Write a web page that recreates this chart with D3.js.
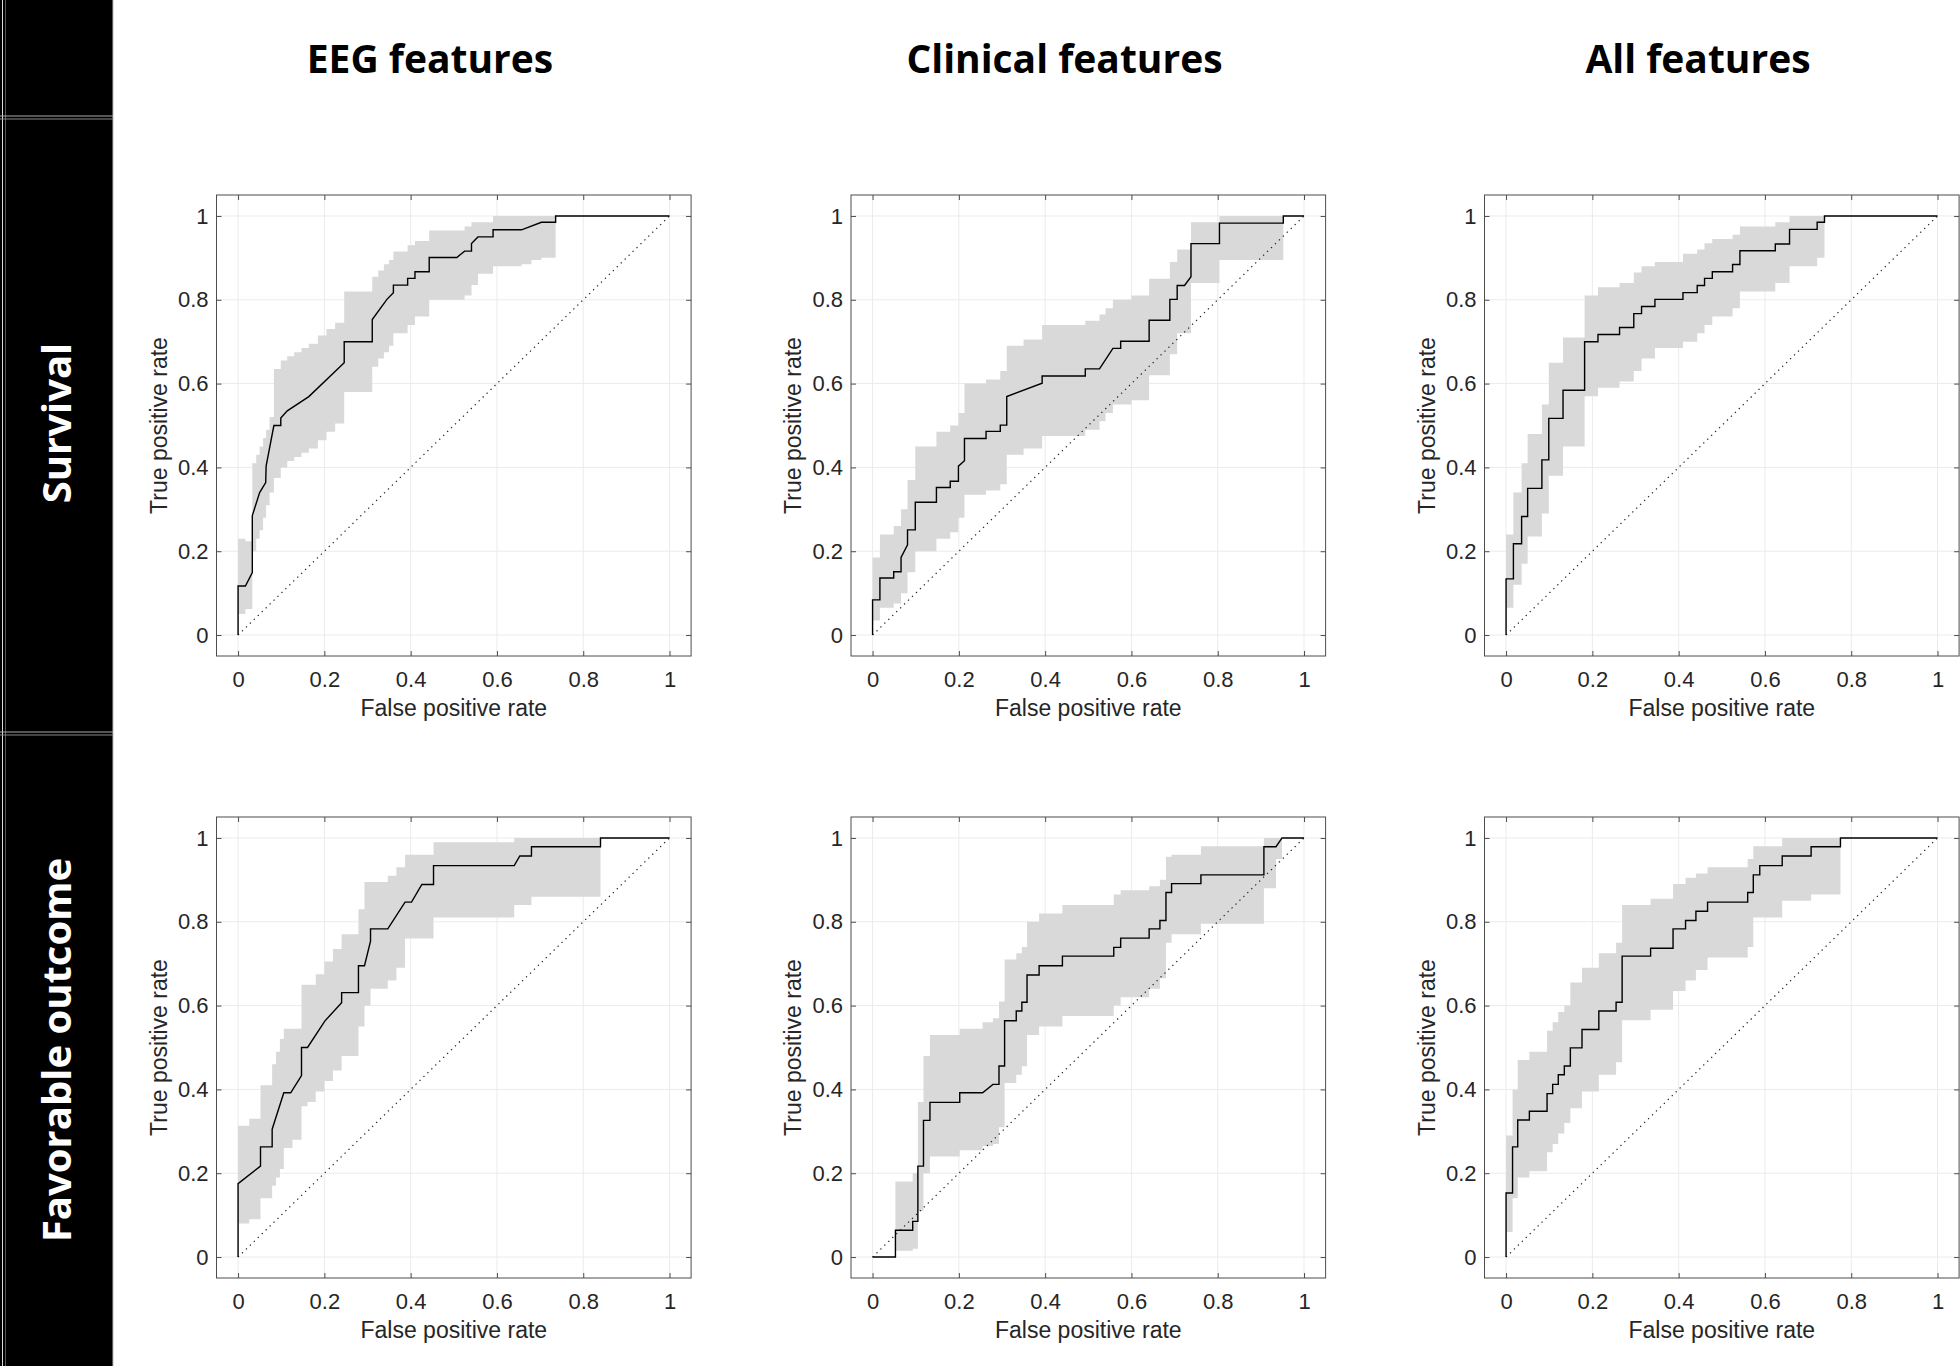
<!DOCTYPE html>
<html lang="en">
<head>
    <meta charset="UTF-8">
    <title>ROC curves</title>
    <script src="https://d3js.org/d3.v7.min.js"></script>
    <style>
        body { margin: 0; background: #fff; }
        .tick text { font-family: "Liberation Sans", Arial, sans-serif; font-size: 22px; fill: #262626; }
        .axis-label { font-family: "Liberation Sans", Arial, sans-serif; font-size: 23px; fill: #262626; }
        .col-title { font-family: "Open Sans", sans-serif; font-weight: bold; font-size: 39px; fill: #000; }
        .row-title { font-family: "Open Sans", sans-serif; font-weight: bold; font-size: 40px; fill: #fff; }
    </style>
</head>
<body>
<div id="chart"></div>
<script>
    const colTitles = ["EEG features", "Clinical features", "All features"];
    const rowTitles = ["Survival", "Favorable outcome"];
    const tickValues = [0, 0.2, 0.4, 0.6, 0.8, 1];
    const tickLabels = ["0", "0.2", "0.4", "0.6", "0.8", "1"];

    // ROC curves: [false positive rate, true positive rate]
    const eegSurvivalRoc = [[0,0],[0,0.117],[0.017,0.117],[0.033,0.149],[0.033,0.285],[0.05,0.34],[0.064,0.364],[0.065,0.403],[0.083,0.5],[0.099,0.5],[0.099,0.518],[0.114,0.535],[0.164,0.569],[0.246,0.65],[0.246,0.7],[0.311,0.7],[0.311,0.753],[0.345,0.801],[0.36,0.817],[0.36,0.835],[0.393,0.835],[0.393,0.851],[0.41,0.851],[0.41,0.867],[0.443,0.867],[0.443,0.901],[0.507,0.901],[0.525,0.916],[0.541,0.916],[0.541,0.934],[0.556,0.95],[0.591,0.95],[0.591,0.967],[0.657,0.967],[0.703,0.985],[0.736,0.985],[0.736,1],[1,1]];
    const clinicalSurvivalRoc = [[0,0],[0,0.084],[0.017,0.084],[0.017,0.136],[0.049,0.136],[0.049,0.151],[0.066,0.151],[0.066,0.185],[0.081,0.215],[0.081,0.251],[0.099,0.251],[0.099,0.317],[0.148,0.317],[0.148,0.352],[0.18,0.352],[0.18,0.367],[0.199,0.367],[0.199,0.403],[0.213,0.416],[0.213,0.469],[0.263,0.469],[0.263,0.486],[0.296,0.486],[0.296,0.501],[0.311,0.501],[0.311,0.569],[0.393,0.601],[0.393,0.618],[0.493,0.618],[0.493,0.635],[0.526,0.635],[0.557,0.684],[0.575,0.684],[0.575,0.701],[0.641,0.701],[0.641,0.751],[0.689,0.751],[0.689,0.801],[0.706,0.801],[0.706,0.834],[0.723,0.834],[0.738,0.855],[0.738,0.934],[0.804,0.934],[0.804,0.983],[0.952,0.983],[0.952,1],[1,1]];
    const allSurvivalRoc = [[0,0],[0,0.134],[0.017,0.134],[0.017,0.218],[0.036,0.218],[0.036,0.283],[0.05,0.283],[0.05,0.35],[0.083,0.35],[0.083,0.418],[0.099,0.418],[0.099,0.517],[0.132,0.517],[0.132,0.584],[0.182,0.584],[0.182,0.7],[0.213,0.7],[0.213,0.717],[0.263,0.717],[0.263,0.734],[0.296,0.734],[0.296,0.767],[0.314,0.767],[0.314,0.784],[0.345,0.784],[0.345,0.801],[0.41,0.801],[0.41,0.817],[0.443,0.817],[0.443,0.834],[0.46,0.834],[0.46,0.851],[0.478,0.851],[0.478,0.867],[0.525,0.867],[0.525,0.884],[0.542,0.884],[0.542,0.917],[0.624,0.917],[0.624,0.933],[0.657,0.933],[0.657,0.968],[0.721,0.968],[0.721,0.985],[0.738,0.985],[0.738,1],[1,1]];
    const eegFavorableRoc = [[0,0],[0,0.175],[0.052,0.217],[0.052,0.263],[0.079,0.263],[0.079,0.305],[0.106,0.392],[0.122,0.392],[0.147,0.433],[0.147,0.5],[0.161,0.5],[0.201,0.563],[0.24,0.607],[0.24,0.631],[0.279,0.631],[0.279,0.695],[0.293,0.695],[0.307,0.754],[0.307,0.783],[0.347,0.783],[0.387,0.847],[0.402,0.847],[0.426,0.889],[0.453,0.889],[0.453,0.934],[0.64,0.934],[0.653,0.957],[0.68,0.957],[0.68,0.979],[0.84,0.979],[0.84,1],[1,1]];
    const clinicalFavorableRoc = [[0,0],[0.053,0],[0.053,0.064],[0.093,0.064],[0.093,0.085],[0.105,0.085],[0.105,0.217],[0.118,0.217],[0.118,0.326],[0.133,0.326],[0.133,0.369],[0.202,0.369],[0.202,0.392],[0.255,0.392],[0.279,0.412],[0.293,0.412],[0.293,0.456],[0.306,0.456],[0.306,0.564],[0.333,0.564],[0.333,0.587],[0.346,0.587],[0.346,0.608],[0.358,0.608],[0.358,0.673],[0.386,0.673],[0.386,0.695],[0.44,0.695],[0.44,0.718],[0.559,0.718],[0.559,0.739],[0.575,0.739],[0.575,0.761],[0.641,0.761],[0.641,0.783],[0.666,0.783],[0.666,0.803],[0.68,0.803],[0.68,0.87],[0.693,0.87],[0.693,0.891],[0.761,0.891],[0.761,0.912],[0.907,0.912],[0.907,0.979],[0.935,0.979],[0.949,1],[1,1]];
    const allFavorableRoc = [[0,0],[0,0.153],[0.015,0.153],[0.015,0.263],[0.027,0.263],[0.027,0.327],[0.054,0.327],[0.054,0.348],[0.095,0.348],[0.095,0.39],[0.108,0.39],[0.108,0.412],[0.121,0.412],[0.121,0.435],[0.135,0.435],[0.135,0.456],[0.149,0.456],[0.149,0.499],[0.176,0.499],[0.176,0.543],[0.215,0.543],[0.215,0.587],[0.255,0.587],[0.255,0.608],[0.269,0.608],[0.269,0.718],[0.335,0.718],[0.335,0.737],[0.387,0.737],[0.387,0.783],[0.416,0.783],[0.416,0.803],[0.44,0.803],[0.44,0.825],[0.467,0.825],[0.467,0.847],[0.56,0.847],[0.56,0.87],[0.573,0.87],[0.573,0.912],[0.588,0.912],[0.588,0.934],[0.64,0.934],[0.64,0.957],[0.707,0.957],[0.707,0.979],[0.775,0.979],[0.775,1],[1,1]];

    // confidence bands: [fpr, lower tpr, upper tpr], held until the next fpr
    const eegSurvivalBand = [[0,0.05,0.23],[0.017,0.062,0.224],[0.033,0.2,0.41],[0.042,0.23,0.43],[0.05,0.25,0.45],[0.058,0.28,0.47],[0.065,0.31,0.49],[0.073,0.34,0.52],[0.083,0.375,0.635],[0.099,0.4,0.655],[0.114,0.415,0.665],[0.13,0.425,0.675],[0.147,0.435,0.685],[0.164,0.445,0.695],[0.185,0.465,0.715],[0.205,0.485,0.73],[0.225,0.505,0.745],[0.246,0.58,0.82],[0.311,0.64,0.855],[0.325,0.66,0.87],[0.338,0.675,0.885],[0.35,0.69,0.895],[0.36,0.72,0.915],[0.393,0.74,0.93],[0.41,0.76,0.94],[0.443,0.8,0.965],[0.507,0.8,0.965],[0.525,0.81,0.975],[0.541,0.835,0.985],[0.556,0.862,0.985],[0.591,0.88,1],[0.657,0.885,1],[0.68,0.895,1],[0.703,0.9,1],[0.736,1,1]];
    const clinicalSurvivalBand = [[0,0.035,0.185],[0.017,0.065,0.24],[0.049,0.075,0.26],[0.066,0.1,0.3],[0.081,0.15,0.37],[0.099,0.2,0.45],[0.148,0.23,0.485],[0.18,0.245,0.5],[0.199,0.28,0.53],[0.213,0.335,0.6],[0.263,0.345,0.61],[0.296,0.36,0.63],[0.311,0.43,0.69],[0.35,0.445,0.705],[0.393,0.475,0.74],[0.493,0.49,0.75],[0.526,0.51,0.765],[0.54,0.53,0.78],[0.557,0.55,0.8],[0.6,0.56,0.81],[0.641,0.62,0.85],[0.689,0.67,0.89],[0.706,0.72,0.92],[0.738,0.84,0.985],[0.804,0.895,1],[0.952,1,1]];
    const allSurvivalBand = [[0,0.065,0.24],[0.017,0.12,0.34],[0.036,0.17,0.41],[0.05,0.235,0.48],[0.083,0.29,0.55],[0.099,0.38,0.65],[0.132,0.45,0.71],[0.182,0.57,0.81],[0.213,0.59,0.83],[0.263,0.605,0.84],[0.296,0.63,0.865],[0.314,0.66,0.88],[0.345,0.685,0.89],[0.41,0.7,0.91],[0.443,0.72,0.92],[0.46,0.74,0.935],[0.478,0.76,0.945],[0.525,0.78,0.955],[0.542,0.82,0.975],[0.624,0.84,0.985],[0.657,0.88,1],[0.721,0.9,1],[0.738,1,1]];
    const eegFavorableBand = [[0,0.08,0.313],[0.026,0.09,0.33],[0.052,0.14,0.41],[0.079,0.17,0.46],[0.088,0.19,0.49],[0.097,0.21,0.52],[0.106,0.26,0.545],[0.126,0.28,0.545],[0.147,0.36,0.65],[0.161,0.37,0.65],[0.18,0.395,0.675],[0.2,0.42,0.705],[0.22,0.445,0.735],[0.24,0.48,0.77],[0.279,0.55,0.83],[0.293,0.6,0.895],[0.307,0.64,0.895],[0.347,0.66,0.91],[0.367,0.69,0.93],[0.387,0.76,0.96],[0.453,0.81,0.99],[0.64,0.84,1],[0.68,0.86,1],[0.84,1,1]];
    const clinicalFavorableBand = [[0.053,0.015,0.18],[0.093,0.02,0.2],[0.105,0.11,0.37],[0.118,0.2,0.48],[0.133,0.24,0.53],[0.202,0.255,0.545],[0.255,0.265,0.56],[0.279,0.27,0.57],[0.293,0.31,0.61],[0.306,0.415,0.71],[0.333,0.435,0.725],[0.346,0.455,0.74],[0.358,0.53,0.8],[0.386,0.55,0.82],[0.44,0.575,0.84],[0.559,0.6,0.865],[0.575,0.62,0.875],[0.641,0.64,0.885],[0.666,0.665,0.9],[0.68,0.75,0.955],[0.693,0.77,0.96],[0.761,0.795,0.98],[0.907,0.88,1],[0.935,0.95,1],[0.949,1,1]];
    const allFavorableBand = [[0,0.06,0.29],[0.015,0.14,0.4],[0.027,0.19,0.47],[0.054,0.205,0.49],[0.095,0.25,0.54],[0.108,0.27,0.56],[0.121,0.295,0.585],[0.135,0.32,0.6],[0.149,0.355,0.655],[0.176,0.395,0.69],[0.215,0.435,0.725],[0.255,0.465,0.75],[0.269,0.565,0.84],[0.335,0.59,0.855],[0.387,0.635,0.89],[0.416,0.66,0.905],[0.44,0.685,0.915],[0.467,0.715,0.93],[0.56,0.74,0.95],[0.573,0.81,0.98],[0.64,0.85,1],[0.707,0.865,1],[0.775,1,1]];

    const rocs = [[eegSurvivalRoc, clinicalSurvivalRoc, allSurvivalRoc],
                  [eegFavorableRoc, clinicalFavorableRoc, allFavorableRoc]];
    const bands = [[eegSurvivalBand, clinicalSurvivalBand, allSurvivalBand],
                   [eegFavorableBand, clinicalFavorableBand, allFavorableBand]];

    const width = 1960, height = 1366;
    const colLeft = [216.5, 851, 1484.5];
    const rowTop = [195, 817];
    const boxW = 474.6, boxH = 461;
    const boxColor = "#4d4d4d";

    const svg = d3.select("#chart")
        .append("svg")
        .attr("width", width)
        .attr("height", height);

    // black side bar with row titles
    svg.append("rect")
        .attr("x", 0).attr("y", 0)
        .attr("width", 113).attr("height", height)
        .attr("fill", "#000");
    svg.append("line")
        .attr("x1", 2.5).attr("x2", 2.5).attr("y1", 0).attr("y2", height)
        .attr("stroke", "#ddd").attr("stroke-width", 1);
    svg.append("line")
        .attr("x1", 5.5).attr("x2", 5.5).attr("y1", 0).attr("y2", height)
        .attr("stroke", "#555").attr("stroke-width", 1);
    svg.append("line")
        .attr("x1", 113).attr("x2", 113).attr("y1", 0).attr("y2", height)
        .attr("stroke", "#bbb").attr("stroke-width", 1);
    [116, 732].forEach(y => {
        svg.append("line").attr("x1", 0).attr("x2", 113).attr("y1", y).attr("y2", y)
            .attr("stroke", "#aaa").attr("stroke-width", 1);
        svg.append("line").attr("x1", 0).attr("x2", 113).attr("y1", y + 3).attr("y2", y + 3)
            .attr("stroke", "#888").attr("stroke-width", 1);
    });

    const rowCenters = [423, 1050];
    rowTitles.forEach((t, i) => {
        svg.append("text")
            .attr("class", "row-title")
            .attr("text-anchor", "middle")
            .attr("transform", `translate(71, ${rowCenters[i]}) rotate(-90)`)
            .text(t);
    });

    colTitles.forEach((t, j) => {
        svg.append("text")
            .attr("class", "col-title")
            .attr("text-anchor", "middle")
            .attr("x", colLeft[j] + 213.5)
            .attr("y", 73)
            .text(t);
    });

    const x = d3.scaleLinear().domain([-0.05, 1.05]).range([0, boxW]);
    const y = d3.scaleLinear().domain([-0.05, 1.05]).range([boxH, 0]);

    const band_area = d3.area()
        .x(d => x(d[0]))
        .y0(d => y(d[1]))
        .y1(d => y(d[2]))
        .curve(d3.curveStepAfter);

    const roc_line = d3.line()
        .x(d => x(d[0]))
        .y(d => y(d[1]));

    rowTop.forEach((top, r) => {
        colLeft.forEach((left, c) => {
            const g = svg.append("g").attr("transform", `translate(${left}, ${top})`);

            // grid
            g.selectAll(".gx").data(tickValues).enter().append("line")
                .attr("x1", d => x(d)).attr("x2", d => x(d))
                .attr("y1", 0).attr("y2", boxH)
                .attr("stroke", "#ebebeb").attr("stroke-width", 1);
            g.selectAll(".gy").data(tickValues).enter().append("line")
                .attr("x1", 0).attr("x2", boxW)
                .attr("y1", d => y(d)).attr("y2", d => y(d))
                .attr("stroke", "#ebebeb").attr("stroke-width", 1);

            g.append("path")
                .datum(bands[r][c])
                .attr("d", band_area)
                .attr("fill", "#d9d9d9");

            g.append("line")
                .attr("x1", x(0)).attr("y1", y(0))
                .attr("x2", x(1)).attr("y2", y(1))
                .attr("stroke", "#222")
                .attr("stroke-width", 1.2)
                .attr("stroke-dasharray", "1.3,4.2");

            g.append("path")
                .datum(rocs[r][c])
                .attr("d", roc_line)
                .attr("fill", "none")
                .attr("stroke", "#000")
                .attr("stroke-width", 1.4);

            // axes with inward ticks
            const fmt = (d, i) => tickLabels[i];
            const bottom = g.append("g").attr("transform", `translate(0, ${boxH})`)
                .call(d3.axisBottom(x).tickValues(tickValues).tickFormat(fmt).tickSize(-5).tickPadding(15.5));
            const leftAx = g.append("g")
                .call(d3.axisLeft(y).tickValues(tickValues).tickFormat(fmt).tickSize(-5).tickPadding(8));
            const topAx = g.append("g")
                .call(d3.axisTop(x).tickValues(tickValues).tickFormat("").tickSize(-5));
            const rightAx = g.append("g").attr("transform", `translate(${boxW}, 0)`)
                .call(d3.axisRight(y).tickValues(tickValues).tickFormat("").tickSize(-5));
            [bottom, leftAx, topAx, rightAx].forEach(a => {
                a.select(".domain").remove();
                a.selectAll(".tick line").attr("stroke", boxColor);
            });

            g.append("rect")
                .attr("x", 0).attr("y", 0)
                .attr("width", boxW).attr("height", boxH)
                .attr("fill", "none")
                .attr("stroke", boxColor)
                .attr("stroke-width", 1);

            g.append("text")
                .attr("class", "axis-label")
                .attr("text-anchor", "middle")
                .attr("x", x(0.5))
                .attr("y", boxH + 60)
                .text("False positive rate");

            g.append("text")
                .attr("class", "axis-label")
                .attr("text-anchor", "middle")
                .attr("transform", `translate(-50, ${y(0.5)}) rotate(-90)`)
                .text("True positive rate");
        });
    });
</script>
</body>
</html>
